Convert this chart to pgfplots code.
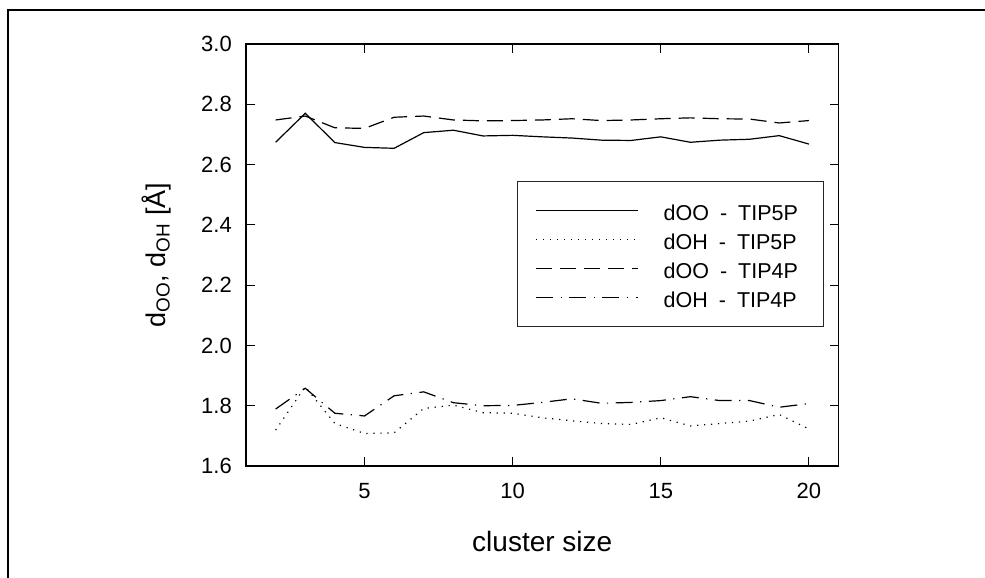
\documentclass[border=0pt]{standalone}
\usepackage{pgfplots}
\pgfplotsset{compat=1.18}
\usepackage{fontspec}
\setmainfont{Liberation Sans}
\pgfplotstableread{
x  dOO5   dOH5   dOO4   dOH4
2  2.674  1.719  2.748  1.789
3  2.770  1.863  2.761  1.858
4  2.673  1.741  2.722  1.775
5  2.657  1.708  2.720  1.766
6  2.654  1.710  2.757  1.833
7  2.706  1.791  2.761  1.846
8  2.714  1.802  2.748  1.810
9  2.695  1.777  2.745  1.800
10 2.697  1.775  2.746  1.801
11 2.692  1.760  2.748  1.811
12 2.688  1.750  2.752  1.823
13 2.681  1.741  2.746  1.808
14 2.680  1.738  2.748  1.811
15 2.692  1.760  2.752  1.817
16 2.674  1.733  2.755  1.830
17 2.681  1.741  2.752  1.817
18 2.684  1.749  2.751  1.817
19 2.696  1.771  2.738  1.795
20 2.668  1.723  2.746  1.807
}\datatable
\newcommand{\sep}{\hspace{11pt}-\hspace{11pt}}
\begin{document}
\begin{tikzpicture}[x=1pt,y=1pt]
\useasboundingbox (0,0) rectangle (985,-578);
\draw[line width=2pt] (8.3,-600) -- (8.3,-10.3) -- (1000,-10.3);
\begin{axis}[
  at={(246pt,-466pt)}, anchor=south west,
  scale only axis, width=592.5pt, height=422pt,
  xmin=1, xmax=21, ymin=1.6, ymax=3.0,
  xtick={5,10,15,20},
  ytick={1.6,1.8,2.0,2.2,2.4,2.6,2.8,3.0},
  tick align=inside, major tick length=9pt,
  every tick/.style={black, line width=1.2pt},
  axis line style={line width=1.3pt},
  /pgf/number format/assume math mode=true,
  tick label style={font=\fontsize{22}{26}\selectfont},
  yticklabel style={/pgf/number format/fixed, /pgf/number format/fixed zerofill, /pgf/number format/precision=1, inner sep=0pt, anchor=east, xshift=-14pt},
  xticklabel style={inner sep=0pt, anchor=north, yshift=-17pt},
  xlabel={cluster size},
  xlabel style={at={(axis description cs:0.5,-0.2031)}, anchor=base, inner sep=0pt, font=\fontsize{28}{32}\selectfont},
  ylabel={d\textsubscript{OO}, d\textsubscript{OH} [Å]},
  ylabel style={at={(axis description cs:-0.1367,0.5)}, anchor=base, inner sep=0pt, font=\fontsize{27}{31}\selectfont},
  legend style={at={(axis description cs:0.4574,0.6754)}, anchor=north west, draw=black!85, line width=0.9pt,
    inner xsep=18pt, inner ysep=19.5pt, row sep=9.5pt, column sep=25pt,
    font=\fontsize{21.5}{25}\selectfont,
    nodes={inner sep=0pt, text height=19.5pt, text depth=0pt}},
  legend cell align=left,
  legend image code/.code={\draw[#1] (0pt,0pt) -- (102pt,0pt);},
]
\addplot[black, line width=1.2pt, solid] table[x=x, y=dOO5] {\datatable};
\addlegendentry{dOO\sep TIP5P\hspace*{7pt}}
\addplot[black, line width=1.2pt, dash pattern=on 1.2pt off 5.8pt] table[x=x, y=dOH5] {\datatable};
\addlegendentry{dOH\sep TIP5P\hspace*{7pt}}
\addplot[black, line width=1.2pt, dash pattern=on 16pt off 8pt] table[x=x, y=dOO4] {\datatable};
\addlegendentry{dOO\sep TIP4P\hspace*{7pt}}
\addplot[black, line width=1.2pt, dash pattern=on 17pt off 7.5pt on 1.2pt off 7.5pt] table[x=x, y=dOH4] {\datatable};
\addlegendentry{dOH\sep TIP4P\hspace*{7pt}}
\end{axis}
\end{tikzpicture}
\end{document}
